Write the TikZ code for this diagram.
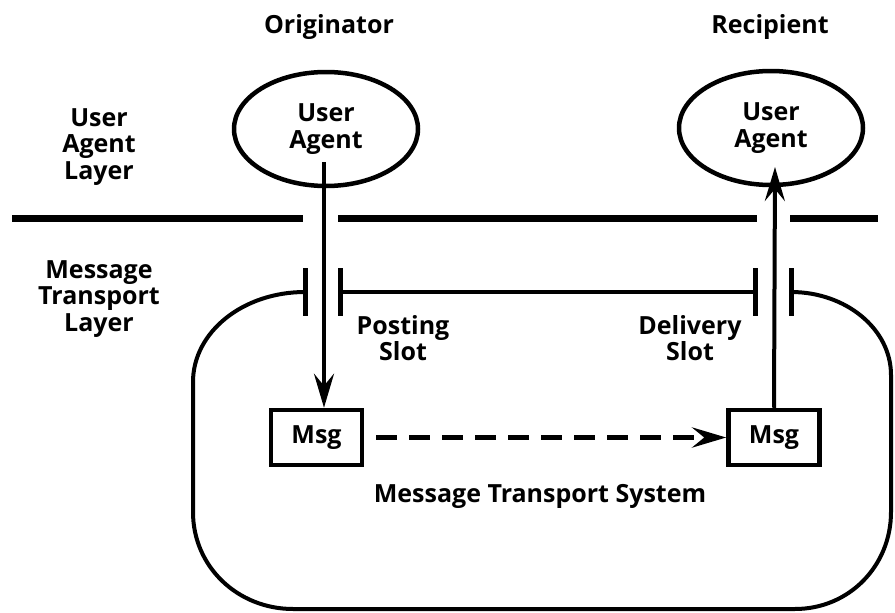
\documentclass[tikz,border=0pt]{standalone}
\usepackage{fontspec}
\setmainfont{Open Sans}
\usepackage{tikz}
\usetikzlibrary{positioning,arrows.meta,shapes.geometric}

\begin{document}
\begin{tikzpicture}[x=1pt, y=-1pt,
  lbl/.style={font=\bfseries\fontsize{25}{26.5}\selectfont, align=center, inner sep=0pt},
  agent/.style={ellipse, draw, line width=4.5pt, minimum width=184pt, minimum height=114pt, lbl},
  msg/.style={rectangle, draw, line width=4.5pt, minimum width=91pt, minimum height=55pt, lbl},
  flow/.style={line width=4pt, -{Stealth[length=34pt, width=20pt, inset=12pt]}},
  move/.style={flow, line width=5.5pt, dash pattern=on 21pt off 12pt},
  layer/.style={line width=7pt},
  slot/.style={line width=5pt},
  mts/.style={line width=4pt}
]
\useasboundingbox (0,0) rectangle (895,613);
% column headings
\node[lbl, anchor=base] (orig) at (329,34) {Originator};
\node[lbl, anchor=base] (recip) at (770,34) {Recipient};
% layer names
\node[lbl, anchor=north] (ualayer) at (99,108) {User\\Agent\\Layer};
\node[lbl, anchor=north] (mtlayer) at (99,260) {Message\\Transport\\Layer};
% user agents
\node[agent] (ua1) at (326,129) {User\\Agent};
\node[agent] (ua2) at (771,128) {User\\Agent};
% layer boundary
\draw[layer] (12,218) -- (303,218);
\draw[layer] (338,218) -- (757,218);
\draw[layer] (790,218) -- (878,218);
% message transport system outline
\draw[mts] (305,292) .. controls (243,292) and (193,332) .. (193,382)
  -- (193,512) .. controls (193,567) and (238,609) .. (293,609)
  -- (795,609) .. controls (849,609) and (891,566) .. (891,512)
  -- (891,375) .. controls (891,329) and (846,292) .. (791,292);
\draw[mts] (340,292) -- (755,292);
% slots
\draw[slot] (305,268) -- (305,316);
\draw[slot] (340,268) -- (340,316);
\draw[slot] (755,268) -- (755,316);
\draw[slot] (791,268) -- (791,316);
\node[lbl, anchor=north] (posting) at (403,315) {Posting\\Slot};
\node[lbl, anchor=north] (delivery) at (690,315) {Delivery\\Slot};
% messages
\node[msg] (msg1) at (316.5,437.5) {Msg};
\node[msg] (msg2) at (774,437.5) {Msg};
\node[lbl, anchor=base] (mtsname) at (540,502) {Message Transport System};
% flow
\coordinate (post) at (324,162);
\coordinate (deliv) at (775,167);
\draw[flow] (post) -- (post |- msg1.north);
\draw[flow] (msg2.north) -- (deliv);
\draw[move] ([xshift=12pt]msg1.east) -- (msg2.west);
\end{tikzpicture}
\end{document}
